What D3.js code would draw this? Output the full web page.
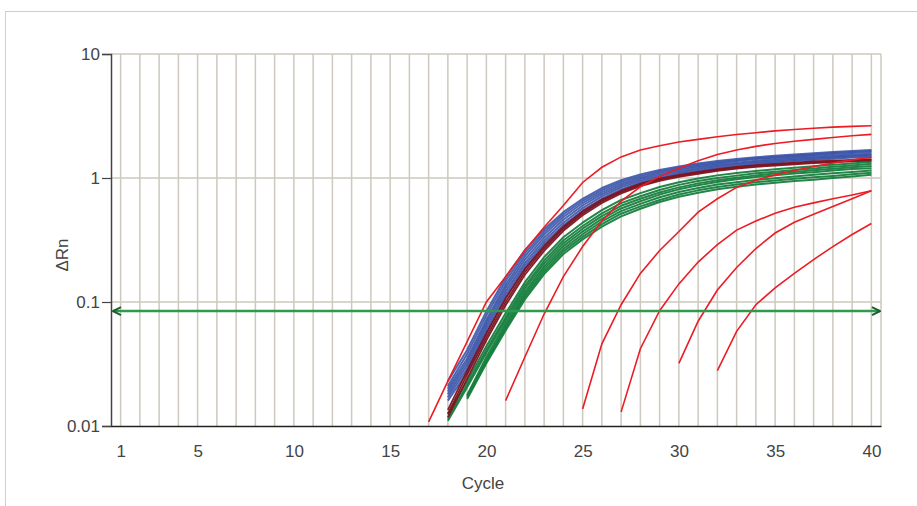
<!DOCTYPE html>
<html><head><meta charset="utf-8">
<script src="https://cdn.jsdelivr.net/npm/d3@7"></script>
<style>
body{margin:0;background:#fff}
svg{display:block}
text{font-family:"Liberation Sans",Arial,sans-serif;fill:#444}
</style>
</head><body>
<svg id="c" width="917" height="506"></svg>
<script>
// ---- data ----
const xTickValues = [1, 5, 10, 15, 20, 25, 30, 35, 40];
const yTickValues = [0.01, 0.1, 1, 10];
const yTickLabels = ["0.01", "0.1", "1", "10"];
const gridCycles = d3.range(1, 41);
const thresholdValue = 0.0845;

// blue curves, cycles 18..40
const blueStart = 18;
const blueCurves = [
  [0.023,0.041,0.084,0.158,0.262,0.386,0.530,0.68,0.83,0.96,1.07,1.16,1.24,1.31,1.37,1.42,1.47,1.51,1.55,1.58,1.62,1.65,1.68],
  [0.021,0.038,0.078,0.148,0.248,0.368,0.508,0.655,0.80,0.93,1.04,1.13,1.21,1.28,1.34,1.39,1.44,1.48,1.52,1.55,1.59,1.62,1.65],
  [0.020,0.035,0.072,0.138,0.234,0.350,0.485,0.628,0.77,0.90,1.01,1.10,1.18,1.25,1.31,1.37,1.42,1.46,1.50,1.53,1.56,1.59,1.62],
  [0.019,0.033,0.068,0.130,0.220,0.330,0.460,0.600,0.74,0.87,0.98,1.07,1.15,1.22,1.28,1.33,1.38,1.42,1.46,1.49,1.52,1.55,1.57],
  [0.018,0.031,0.064,0.122,0.207,0.312,0.436,0.572,0.71,0.84,0.95,1.04,1.12,1.19,1.25,1.30,1.35,1.39,1.43,1.46,1.49,1.52,1.54],
  [0.017,0.029,0.060,0.115,0.196,0.296,0.415,0.545,0.68,0.81,0.92,1.01,1.09,1.16,1.22,1.27,1.32,1.36,1.40,1.43,1.46,1.49,1.51],
  [0.016,0.027,0.056,0.108,0.185,0.280,0.397,0.520,0.66,0.78,0.89,0.98,1.06,1.13,1.19,1.24,1.29,1.33,1.37,1.40,1.43,1.46,1.48]
];

// dark red curves, cycles 18..40
const maroonStart = 18;
const maroonCurves = [
  [0.0135,0.028,0.056,0.107,0.185,0.283,0.405,0.54,0.67,0.79,0.90,0.99,1.06,1.12,1.18,1.23,1.27,1.30,1.33,1.36,1.38,1.40,1.42],
  [0.0125,0.026,0.052,0.100,0.175,0.270,0.390,0.52,0.65,0.77,0.88,0.97,1.04,1.10,1.16,1.21,1.25,1.28,1.31,1.34,1.36,1.38,1.40],
  [0.0118,0.024,0.049,0.094,0.166,0.258,0.375,0.50,0.63,0.75,0.86,0.95,1.02,1.08,1.14,1.19,1.23,1.26,1.29,1.32,1.34,1.36,1.38]
];

// green curves starting at cycle 18
const greenStartA = 18;
const greenCurvesA = [
  [0.0125,0.023,0.044,0.081,0.144,0.230,0.333,0.436,0.550,0.665,0.755,0.845,0.925,0.990,1.050,1.095,1.140,1.175,1.210,1.245,1.280,1.310,1.350],
  [0.0115,0.0215,0.041,0.0755,0.135,0.216,0.313,0.410,0.518,0.627,0.713,0.800,0.880,0.945,1.000,1.045,1.090,1.125,1.160,1.195,1.230,1.260,1.300],
  [0.0110,0.0205,0.039,0.0715,0.128,0.205,0.297,0.390,0.493,0.597,0.680,0.765,0.840,0.905,0.960,1.005,1.050,1.085,1.120,1.155,1.190,1.220,1.250]
];
// green curves starting at cycle 19
const greenStartB = 19;
const greenCurvesB = [
  [0.0177,0.036,0.0675,0.121,0.194,0.282,0.370,0.468,0.568,0.650,0.735,0.810,0.875,0.930,0.975,1.020,1.050,1.085,1.115,1.150,1.180,1.200],
  [0.0175,0.034,0.064,0.115,0.185,0.268,0.352,0.446,0.540,0.618,0.700,0.770,0.830,0.885,0.925,0.965,0.995,1.030,1.060,1.090,1.120,1.150],
  [0.0170,0.033,0.061,0.110,0.176,0.256,0.335,0.425,0.515,0.590,0.665,0.735,0.795,0.845,0.885,0.925,0.955,0.985,1.015,1.040,1.070,1.100],
  [0.0165,0.032,0.059,0.105,0.168,0.244,0.320,0.405,0.490,0.565,0.640,0.705,0.760,0.810,0.850,0.885,0.915,0.945,0.970,1.000,1.030,1.060]
];

// red dilution curves
const redStarts = [17, 21, 25, 27, 30, 32];
const redA = [0.0108,0.023,0.048,0.10,0.16,0.26,0.40,0.60,0.92,1.22,1.48,1.68,1.82,1.95,2.05,2.15,2.24,2.32,2.40,2.46,2.52,2.57,2.61,2.64];
const redB = [0.016,0.036,0.080,0.16,0.28,0.45,0.65,0.85,1.03,1.20,1.38,1.55,1.68,1.80,1.90,1.98,2.05,2.12,2.19,2.25];
const redC = [0.0137,0.046,0.095,0.17,0.26,0.37,0.53,0.68,0.84,0.96,1.06,1.15,1.24,1.32,1.40,1.47];
const redD = [0.013,0.042,0.085,0.14,0.21,0.29,0.38,0.45,0.52,0.58,0.63,0.68,0.73,0.79];
const redE = [0.032,0.07,0.125,0.19,0.27,0.36,0.44,0.51,0.59,0.68,0.79];
const redF = [0.028,0.058,0.095,0.13,0.17,0.22,0.28,0.35,0.43];
const redCurves = [redA, redB, redC, redD, redE, redF];

// ---- chart ----
const svg = d3.select("#c");
const x = d3.scaleLinear().domain([0.5, 40.5]).range([111, 881]);
const y = d3.scaleLog().domain([0.01, 10]).range([426, 54]);

// outer frame
svg.append("line").attr("x1",5).attr("x2",917).attr("y1",11.5).attr("y2",11.5).attr("stroke","#cfcfcf");
svg.append("line").attr("x1",5.5).attr("x2",5.5).attr("y1",11).attr("y2",506).attr("stroke","#cfcfcf");

const grid = svg.append("g");
grid.selectAll("line.v").data(gridCycles.concat([40.5])).join("line")
  .attr("x1", d => x(d)).attr("x2", d => x(d))
  .attr("y1", y(10)).attr("y2", y(0.01))
  .attr("stroke", "#cdc9be").attr("stroke-width", 1.5);
grid.selectAll("line.h").data([0.1, 1, 10]).join("line")
  .attr("x1", x(0.5)).attr("x2", x(40.5))
  .attr("y1", d => y(d)).attr("y2", d => y(d))
  .attr("stroke", "#cdc9be").attr("stroke-width", 1.5);

// y axis
const yAxis = d3.axisLeft(y).tickValues(yTickValues)
  .tickFormat((d, i) => yTickLabels[i]).tickSize(9).tickPadding(2);
const gy = svg.append("g").attr("transform", `translate(${x(0.5)},0)`).call(yAxis);
gy.select(".domain").attr("stroke", "#444").attr("stroke-width", 1.5);
gy.selectAll(".tick line").attr("stroke", "#444").attr("stroke-width", 1.2);
gy.selectAll(".tick text").style("font-size", "17px").attr("fill", "#444");

// x axis
const xAxis = d3.axisBottom(x).tickValues(xTickValues).tickSize(0).tickPadding(19);
const gx = svg.append("g").attr("transform", `translate(0,${y(0.01)})`).call(xAxis);
gx.select(".domain").attr("stroke", "#222").attr("stroke-width", 1.5);
gx.selectAll(".tick text").style("font-size", "17px").attr("fill", "#444");

svg.append("text").attr("x", 483).attr("y", 489).attr("text-anchor", "middle")
  .style("font-size", "17px").text("Cycle");
svg.append("text").attr("transform", "translate(68,255) rotate(-90)").attr("text-anchor", "middle")
  .style("font-size", "17px").text("ΔRn");

// curves
const lineFrom = start => d3.line().x((d, i) => x(start + i)).y(d => y(d));
const plot = svg.append("g");
function draw(curves, start, color, width, op) {
  plot.append("g").selectAll("path").data(curves).join("path")
    .attr("d", lineFrom(start)).attr("fill", "none")
    .attr("stroke", color).attr("stroke-width", width)
    .attr("stroke-opacity", op)
    .attr("stroke-linejoin", "round");
}
draw(greenCurvesA, greenStartA, "#17803e", 2.0, 0.95);
draw(greenCurvesB, greenStartB, "#17803e", 2.0, 0.95);
draw(blueCurves, blueStart, "#3b54a8", 2.0, 0.9);
draw(maroonCurves, maroonStart, "#7d1420", 1.8, 0.95);
redCurves.forEach((c, k) => {
  plot.append("path").datum(c).attr("d", lineFrom(redStarts[k]))
    .attr("fill", "none").attr("stroke", "#ec1c24").attr("stroke-width", 1.6);
});

// threshold with arrows
const defs = svg.append("defs");
defs.append("marker").attr("id","arrR").attr("viewBox","0 0 10 10").attr("refX",9).attr("refY",5)
  .attr("markerWidth",4).attr("markerHeight",4).attr("orient","auto").attr("markerUnits","strokeWidth")
  .append("path").attr("d","M1,1 L9,5 L1,9").attr("fill","none").attr("stroke","#1d5e2e").attr("stroke-width",2);
defs.append("marker").attr("id","arrL").attr("viewBox","0 0 10 10").attr("refX",1).attr("refY",5)
  .attr("markerWidth",4).attr("markerHeight",4).attr("orient","auto").attr("markerUnits","strokeWidth")
  .append("path").attr("d","M9,1 L1,5 L9,9").attr("fill","none").attr("stroke","#1d5e2e").attr("stroke-width",2);
svg.append("line").attr("x1", x(0.5) + 2).attr("x2", x(40.5) - 1)
  .attr("y1", y(thresholdValue)).attr("y2", y(thresholdValue))
  .attr("stroke", "#2f9a4c").attr("stroke-width", 2.5)
  .attr("marker-start", "url(#arrL)").attr("marker-end", "url(#arrR)");
</script>
</body></html>
